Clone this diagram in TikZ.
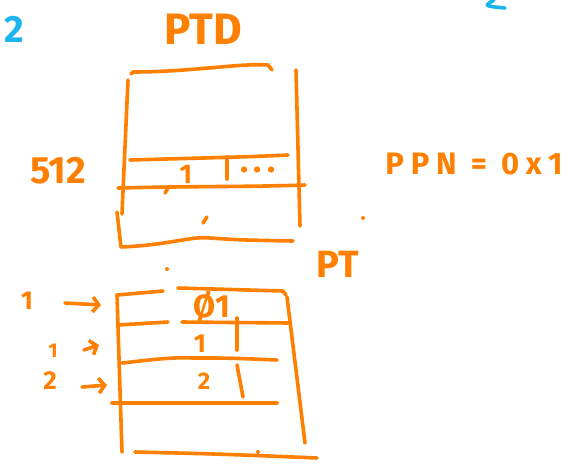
\documentclass[tikz,border=0pt]{standalone}
\usepackage{fontspec}
\setmainfont{Fira Sans}
\usetikzlibrary{arrows.meta}

\definecolor{pen}{RGB}{255,128,0}
\definecolor{ink}{RGB}{28,180,240}

\tikzset{
	stroke/.style={draw=pen,line width=3.6pt,line cap=round,line join=round},
	pointer/.style={stroke,-{Straight Barb[length=6pt,width=15pt]}},
	hand/.style={text=pen,inner sep=0pt,font=\fontsize{#1}{#1}\selectfont\bfseries},
	dot/.style={fill=pen,circle,inner sep=0pt,minimum size=4pt},
}

\begin{document}
\begin{tikzpicture}[x=1pt,y=-1pt]
	\useasboundingbox (0,0) rectangle (571,466);

	\node[hand=38,text=ink] (two) at (14,29) {2};
	\draw[ink,line width=3.6pt,line cap=round] (494,0) .. controls (484,6) .. (505,8);

	% directory
	\node[hand=44] (ptd) at (203,29) {PTD};
	\draw[stroke] (131,74) -- (133,72) .. controls (190,72) and (240,63) .. (268,65) -- (272,70);
	\draw[stroke] (128,80) -- (122,214);
	\draw[stroke] (296,70) -- (300,226);
	\draw[stroke] (130,160) .. controls (200,158) and (250,157) .. (288,155);
	\draw[stroke] (118,188) .. controls (200,186) and (250,187) .. (305,185);
	\draw[stroke] (227,157) -- (227,179);
	\draw[stroke] (165,193) -- (168,188);
	\node[hand=27] (slot) at (186,174) {1};
	\node[hand=34] (more) at (258,170) {.\hspace{5pt}.\hspace{5pt}.};
	\node[hand=38] (count) at (58,171) {512};
	\draw[stroke] (117,212) -- (121,247) .. controls (170,245) and (190,236) .. (210,238) .. controls (240,240) .. (293,241);
	\draw[stroke] (203,223) -- (207,217);

	\node[hand=31] (ppn) at (474,164) {\addfontfeature{LetterSpace=22}PPN = 0x1};
	\node[dot] (d1) at (363,218) {};
	\node[dot] (d2) at (167,269) {};

	% page table
	\node[hand=38] (pt) at (338,264) {PT};
	\draw[stroke] (117,295) -- (163,291);
	\draw[stroke] (178,288) .. controls (230,289) .. (283,291) -- (286,295);
	\draw[stroke] (117,295) -- (122,452);
	\draw[stroke] (287,297) -- (305,443);
	\draw[stroke] (118,325) -- (168,322);
	\draw[stroke] (182,322) -- (288,323);
	\draw[stroke] (237,318) -- (237,350);
	\draw[stroke] (122,363) .. controls (150,360) and (170,357) .. (193,358) .. controls (230,358) .. (277,360);
	\draw[stroke] (237,365) -- (243,397);
	\draw[stroke] (112,403) -- (277,403);
	\draw[stroke] (135,452) .. controls (220,454) .. (317,458);
	\node[dot] (d3) at (258,452) {};

	\node[hand=32] (e0) at (212,306) {Ø1};
	\node[hand=26] (e1) at (200,344) {1};
	\node[hand=24] (e2) at (204,381) {2};

	\node[hand=26] (l0) at (27,301) {1};
	\node[hand=20] (l1) at (53,351) {1};
	\node[hand=26] (l2) at (50,381) {2};
	\coordinate (a0s) at (65,303);
	\coordinate (a0e) at (101,305);
	\coordinate (a1s) at (84,350);
	\coordinate (a1e) at (99,345);
	\coordinate (a2s) at (82,387);
	\coordinate (a2e) at (107,385);
	\draw[pointer] (a0s) -- (a0e);
	\draw[pointer] (a1s) -- (a1e);
	\draw[pointer] (a2s) -- (a2e);
\end{tikzpicture}
\end{document}
